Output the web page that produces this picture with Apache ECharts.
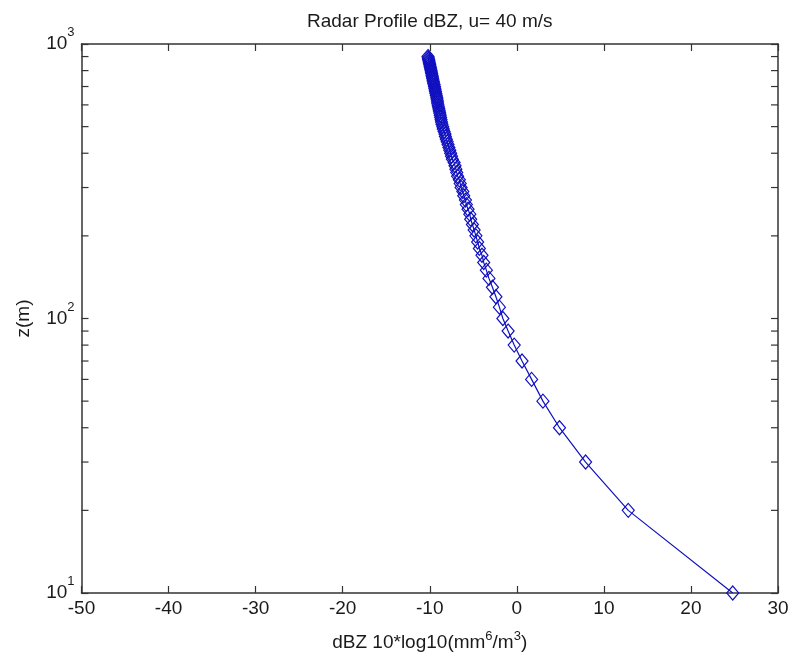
<!DOCTYPE html>
<html>
<head>
<meta charset="utf-8">
<script src="https://cdn.jsdelivr.net/npm/echarts@6/dist/echarts.min.js"></script>
<style>html,body{margin:0;padding:0;background:#fff;}#chart{width:793px;height:666px;}</style>
</head>
<body>
<div id="chart"></div>
<script>
// Heights (m)
const heights = [10,20,30,40,50,60,70,80,90,100,
  110,120,130,140,150,160,170,180,190,200,
  210,220,230,240,250,260,270,280,290,300,
  310,320,330,340,350,360,370,380,390,400,
  410,420,430,440,450,460,470,480,490,500,
  510,520,530,540,550,560,570,580,590,600,
  610,620,630,640,650,660,670,680,690,700,
  710,720,730,740,750,760,770,780,790,800,
  810,820,830,840,850,860,870,880,890,900];
// Reflectivity dBZ
const dbz = [24.8,12.8,7.9,4.9,3.0,1.7,0.6,-0.3,-1.0,-1.6,
  -2.0,-2.4,-2.8,-3.2,-3.5,-3.8,-4.0,-4.3,-4.5,-4.7,
  -4.9,-5.1,-5.3,-5.4,-5.6,-5.8,-5.9,-6.1,-6.2,-6.4,
  -6.5,-6.6,-6.8,-6.9,-7.0,-7.1,-7.2,-7.4,-7.5,-7.6,
  -7.7,-7.8,-7.9,-8.0,-8.1,-8.2,-8.25,-8.35,-8.45,-8.5,
  -8.6,-8.65,-8.7,-8.75,-8.8,-8.85,-8.9,-8.95,-9.0,-9.05,
  -9.1,-9.12,-9.17,-9.2,-9.25,-9.3,-9.34,-9.38,-9.42,-9.46,
  -9.5,-9.55,-9.59,-9.63,-9.67,-9.71,-9.74,-9.78,-9.82,-9.85,
  -9.89,-9.93,-9.96,-10.0,-10.03,-10.07,-10.1,-10.13,-10.17,-10.2];
const xMin = -50, xMax = 30, xStep = 10;
const yMajorTicks = [10, 100, 1000];
const yMinorTicks = [20,30,40,50,60,70,80,90,200,300,400,500,600,700,800,900];
const titleText = 'Radar Profile dBZ, u= 40 m/s';
const yName = 'z(m)';

const FONT = 'Liberation Sans, Arial, sans-serif';
const AX = '#333333';
const TXT = '#1a1a1a';
const GL = 81.5, GR = 15, GT = 44, GB = 73;

const chart = echarts.init(document.getElementById('chart'), null, {renderer: 'canvas'});

const supLabel = v => {
  const e = Math.round(Math.log10(v));
  return '{b|10}{s|' + e + '}';
};
const supRich = {
  b: {fontSize: 19, fontFamily: FONT, color: TXT, lineHeight: 20},
  s: {fontSize: 13, fontFamily: FONT, color: TXT, lineHeight: 14, padding: [0, 0, 23, 0]}
};

const tickStyle = {show: true, inside: true, length: 7, lineStyle: {color: AX, width: 1.2}};
const lineStyleAx = {show: true, onZero: false, lineStyle: {color: AX, width: 1.5}};

const option = {
  backgroundColor: '#ffffff',
  animation: false,
  grid: {left: GL, right: GR, top: GT, bottom: GB, containLabel: false},
  graphic: [{
    type: 'text',
    x: GL + (793 - GL - GR) / 2,
    y: 12,
    style: {text: titleText, textAlign: 'center', fontSize: 19, fontFamily: FONT, fill: TXT}
  }],
  xAxis: [{
    type: 'value', min: xMin, max: xMax, interval: xStep, position: 'bottom',
    axisLine: lineStyleAx, axisTick: tickStyle, splitLine: {show: false},
    axisLabel: {fontSize: 19, fontFamily: FONT, color: TXT, margin: 6},
    name: '{t|dBZ 10*log10(mm}{s|6}{t|/m}{s|3}{t|)}',
    nameLocation: 'middle', nameGap: 40,
    nameTextStyle: {rich: {
      t: {fontSize: 19, fontFamily: FONT, color: TXT, lineHeight: 20},
      s: {fontSize: 13, fontFamily: FONT, color: TXT, lineHeight: 14, padding: [0, 0, 14, 0]}
    }}
  }, {
    type: 'value', min: xMin, max: xMax, interval: xStep, position: 'top',
    axisLine: lineStyleAx, axisTick: tickStyle, splitLine: {show: false},
    axisLabel: {show: false}
  }],
  yAxis: [{
    type: 'log', logBase: 10, min: 10, max: 1000, position: 'left',
    axisLine: lineStyleAx, axisTick: tickStyle, splitLine: {show: false},
    minorTick: {show: false},
    axisLabel: {formatter: supLabel, rich: supRich, margin: 7},
    name: yName, nameLocation: 'middle', nameGap: 48, nameRotate: 90,
    nameTextStyle: {fontSize: 19, fontFamily: FONT, color: TXT}
  }, {
    type: 'log', logBase: 10, min: 10, max: 1000, position: 'right',
    axisLine: lineStyleAx, axisTick: tickStyle, splitLine: {show: false},
    axisLabel: {show: false}
  }],
  series: [{
    type: 'line',
    xAxisIndex: 0, yAxisIndex: 0,
    data: heights.map((h, i) => [dbz[i], h]),
    symbol: 'diamond', symbolSize: [12, 14], showAllSymbol: true,
    lineStyle: {color: '#1010c0', width: 1.2},
    itemStyle: {color: 'rgba(255,255,255,0)', borderColor: '#1010c0', borderWidth: 1.2},
    z: 5
  }, {
    type: 'custom',
    xAxisIndex: 0, yAxisIndex: 0,
    silent: true,
    data: yMinorTicks.map(v => [xMin, v]),
    renderItem: function (params, api) {
      const p = api.coord([xMin, api.value(1)]);
      const cs = params.coordSys;
      const xl = cs.x, xr = cs.x + cs.width;
      const st = {stroke: AX, lineWidth: 1.2};
      return {type: 'group', children: [
        {type: 'line', shape: {x1: xl, y1: p[1], x2: xl + 7, y2: p[1]}, style: st},
        {type: 'line', shape: {x1: xr - 7, y1: p[1], x2: xr, y2: p[1]}, style: st}
      ]};
    },
    z: 3
  }]
};
chart.setOption(option);
</script>
</body>
</html>
